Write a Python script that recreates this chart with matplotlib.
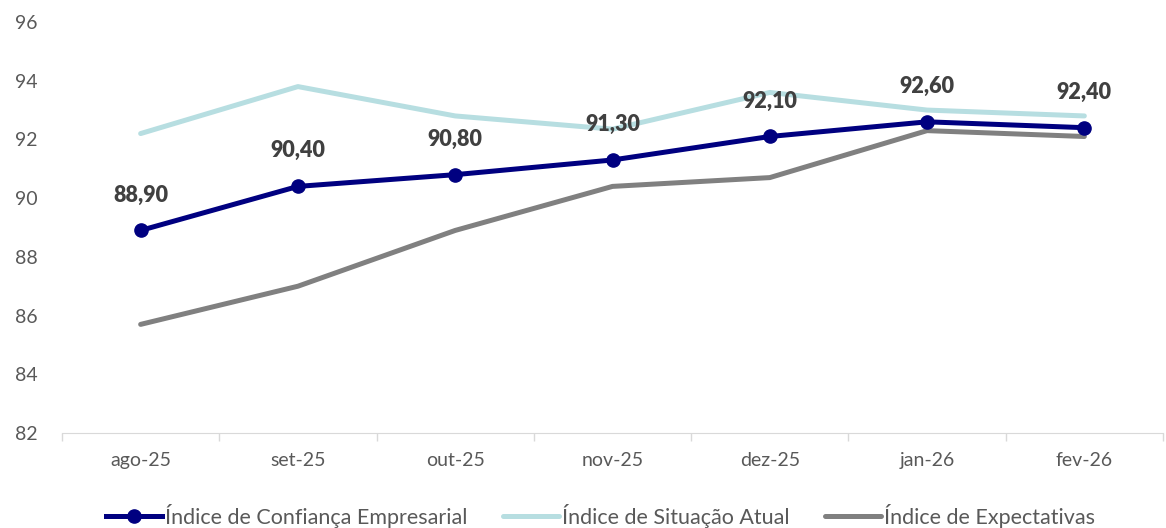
import matplotlib.pyplot as plt

plt.rcParams['font.family'] = ['Lato', 'DejaVu Sans']

meses = ["ago-25", "set-25", "out-25", "nov-25", "dez-25", "jan-26", "fev-26"]
confianca = [88.9, 90.4, 90.8, 91.3, 92.1, 92.6, 92.4]
situacao = [92.2, 93.8, 92.8, 92.35, 93.6, 93.0, 92.8]
expectativas = [85.7, 87.0, 88.9, 90.4, 90.7, 92.3, 92.1]

fig = plt.figure(figsize=(11.66, 5.28), dpi=100)
ax = fig.add_axes([62 / 1166, 1 - 433 / 528, 1101 / 1166, 411 / 528])

x = list(range(len(meses)))
ax.plot(x, situacao, color="#B7DEE1", lw=3.6, solid_capstyle="round",
        label="Índice de Situação Atual", zorder=2)
ax.plot(x, expectativas, color="#808080", lw=3.6, solid_capstyle="round",
        label="Índice de Expectativas", zorder=2)
ax.plot(x, confianca, color="#000080", lw=3.6, marker="o", markersize=9.5,
        label="Índice de Confiança Empresarial", zorder=3)

for xi, v in zip(x, confianca):
    ax.annotate(f"{v:.2f}".replace(".", ","), (xi, v), xytext=(0, 18),
                textcoords="offset points", ha="center", va="bottom",
                fontsize=15.5, fontweight="heavy", color="#404040")

ax.set_xlim(-0.5, len(meses) - 0.5)
ax.set_ylim(82, 96)
ax.set_yticks(range(82, 97, 2))
ax.set_xticks(x)
ax.set_xticklabels(meses)
ax.set_xticks([i - 0.5 for i in range(len(meses) + 1)], minor=True)
ax.tick_params(axis="x", which="major", length=0, pad=14, labelsize=14, labelcolor="#595959")
ax.tick_params(axis="x", which="minor", length=6, color="#D9D9D9", width=1)
ax.tick_params(axis="y", length=0, pad=34, labelsize=14, labelcolor="#595959")
for lbl in ax.get_yticklabels():
    lbl.set_horizontalalignment("left")
for s in ["top", "right", "left"]:
    ax.spines[s].set_visible(False)
ax.spines["bottom"].set_color("#D9D9D9")

handles, labels = ax.get_legend_handles_labels()
order = [2, 0, 1]
fig.legend([handles[i] for i in order], [labels[i] for i in order],
           loc="center", bbox_to_anchor=(0.515, 1 - 516 / 528), ncol=3, frameon=False,
           fontsize=15.5, handlelength=2.6, handletextpad=0.15, columnspacing=1.65,
           labelcolor="#595959")

fig.savefig("out.png", dpi=100)
